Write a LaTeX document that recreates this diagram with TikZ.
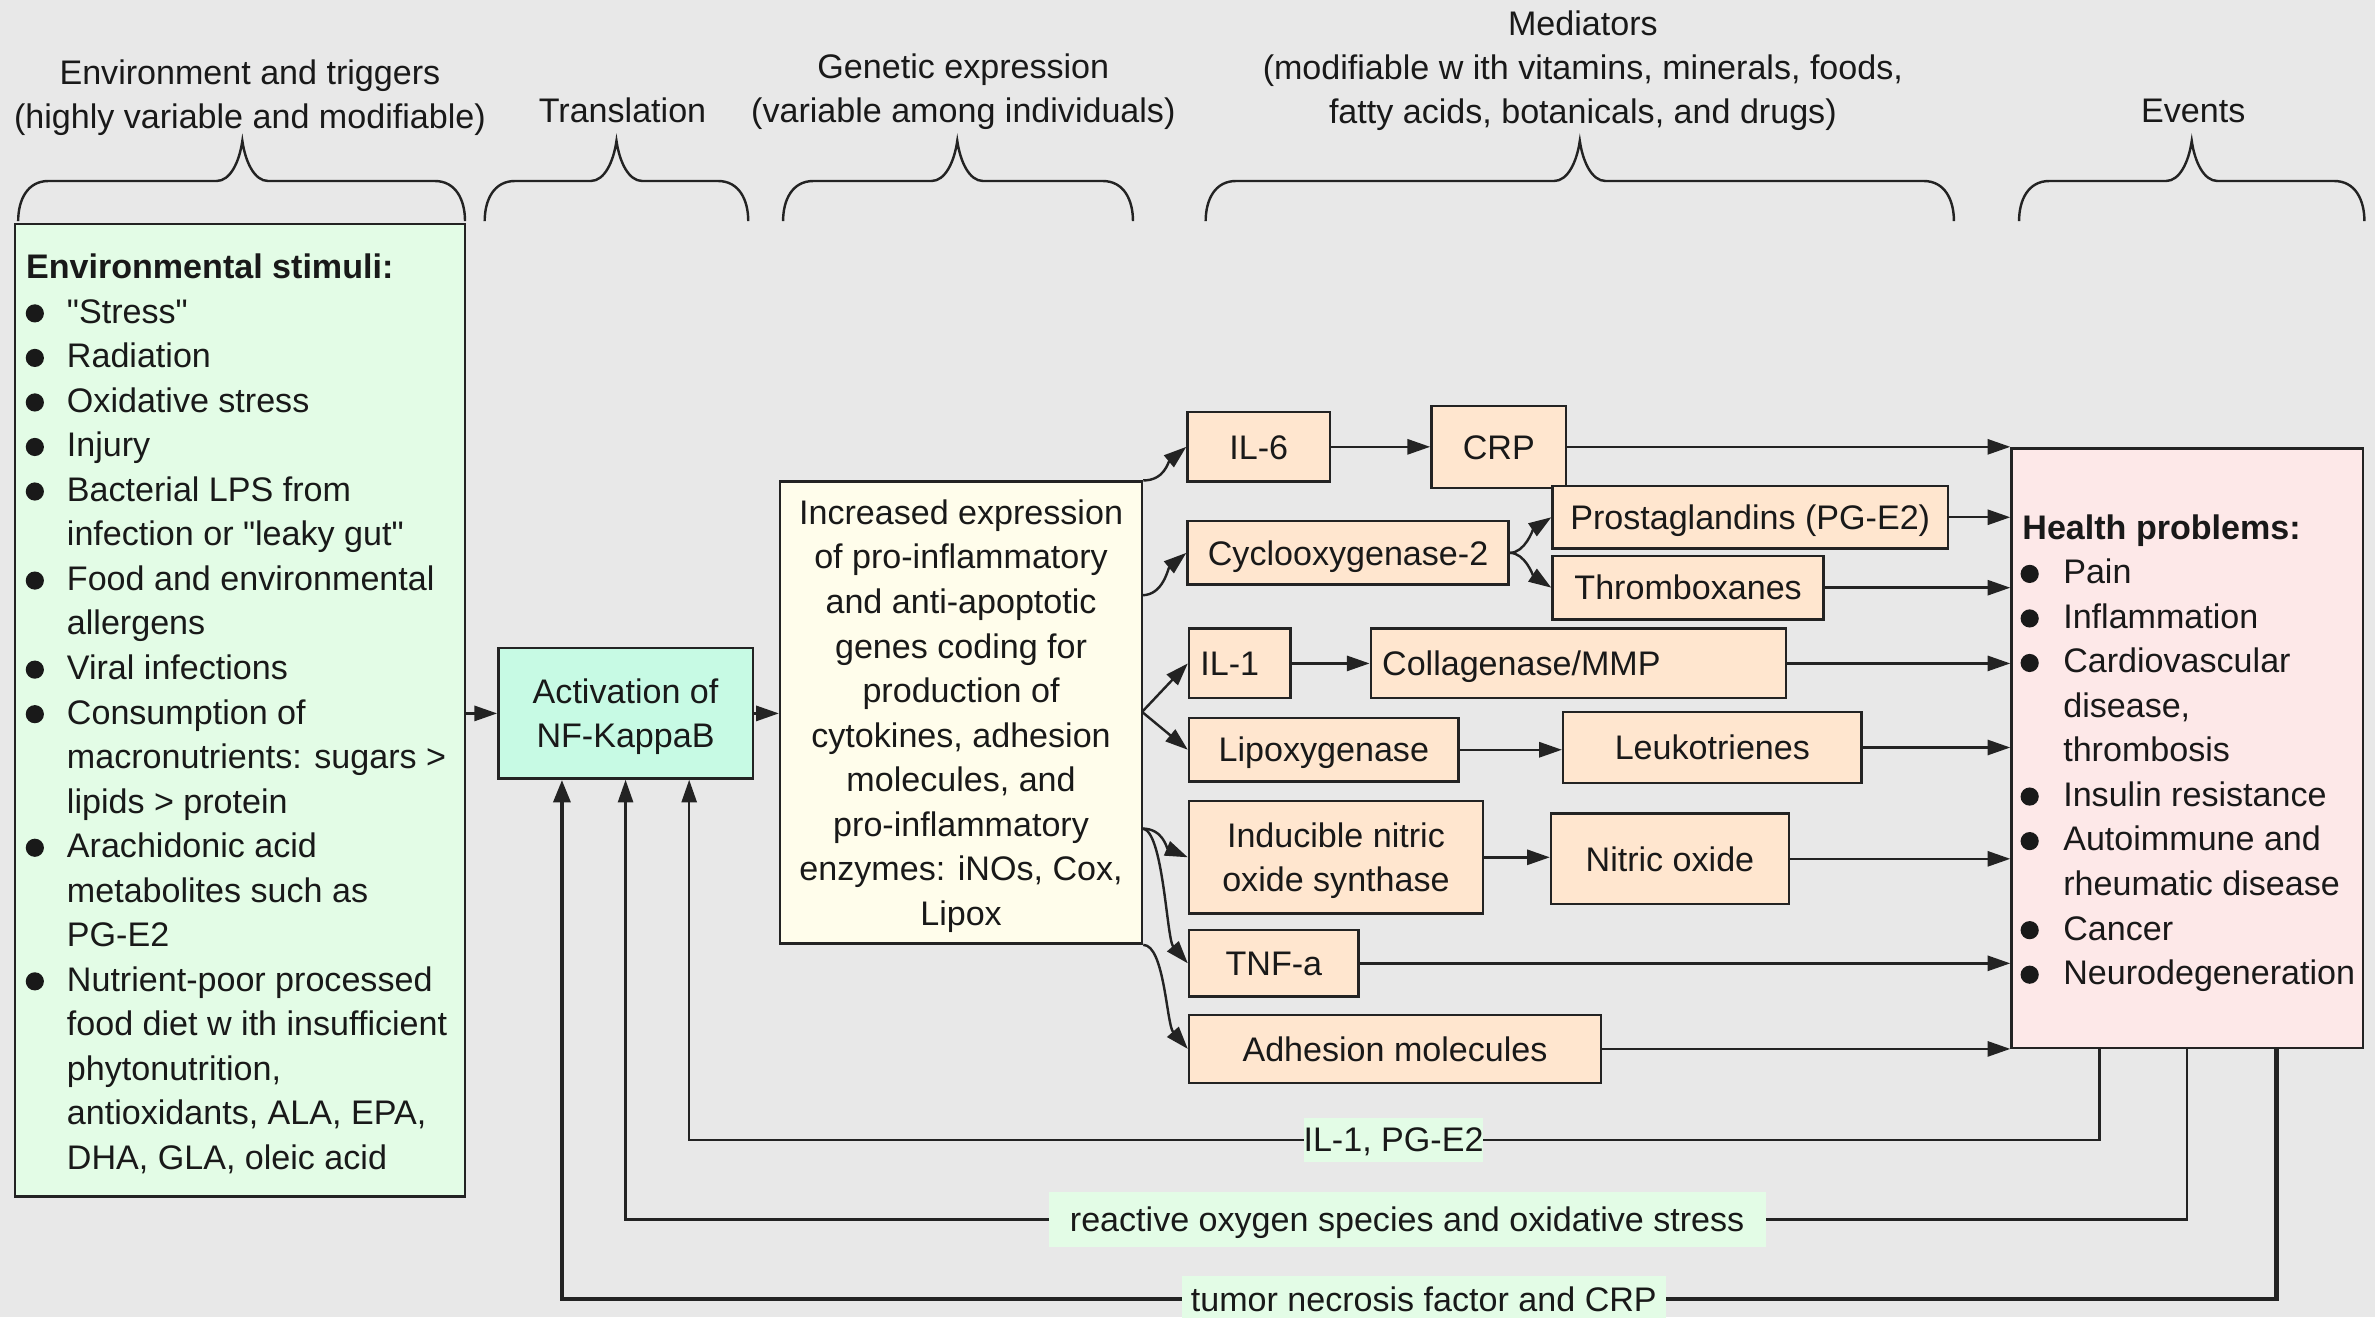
\documentclass[tikz,border=0pt]{standalone}
\usepackage{fontspec}
\setmainfont{Liberation Sans}
\usetikzlibrary{arrows.meta}
\definecolor{bg}{RGB}{232,232,232}
\definecolor{envg}{RGB}{227,252,230}
\definecolor{nfc}{RGB}{199,250,228}
\definecolor{crm}{RGB}{255,253,235}
\definecolor{pch}{RGB}{255,230,207}
\definecolor{pnk}{RGB}{253,232,232}
\definecolor{ln}{RGB}{35,35,35}
\definecolor{tx}{RGB}{25,25,25}
\newcommand\dfont{\fontsize{22.5pt}{29.4pt}\selectfont}
\newcommand\sq{\XeTeXglyph\XeTeXcharglyph"22\relax}
\newcommand\hdrbrace[3]{%
  \draw[brc] (#1,146) .. controls (#1,132) and (#1+6,119.5) .. (#1+20,119.5) -- (#2-17,119.5)
    .. controls (#2-8,119.5) and (#2-2,107) .. (#2,93)
    .. controls (#2+2,107) and (#2+8,119.5) .. (#2+17,119.5) -- (#3-20,119.5)
    .. controls (#3-6,119.5) and (#3,132) .. (#3,146);}
\begin{document}
\begin{tikzpicture}[x=1pt,y=-1pt, font=\dfont, text=tx,
  box/.style={draw=ln, line width=1.6pt, inner sep=0pt},
  one/.style={box, fill=pch, text height=16.1pt, text depth=0pt},
  conn/.style={draw=ln, line width=1.6pt, -{Triangle[length=15pt,width=10pt]}},
  thk/.style={draw=ln, line width=3pt, -{Triangle[length=15pt,width=11pt]}},
  brc/.style={draw=ln, line width=1.6pt},
  hdr/.style={anchor=base, inner sep=0pt},
  fbl/.style={fill=envg, inner ysep=0pt, text height=16.1pt, text depth=0pt}]
\fill[bg] (0,0) rectangle (1568,869.5);
\useasboundingbox (0,0) rectangle (1568,869.5);

% headers
\node[hdr] (h1a) at (165,56) {Environment and triggers};
\node[hdr] (h1b) at (165,85) {(highly variable and modifiable)};
\node[hdr] (h2) at (411,81) {Translation};
\node[hdr] (h3a) at (636,52) {Genetic expression};
\node[hdr] (h3b) at (636,81) {(variable among individuals)};
\node[hdr] (h4a) at (1045,23.5) {Mediators};
\node[hdr] (h4b) at (1045,52.5) {(modifiable w ith vitamins, minerals, foods,};
\node[hdr] (h4c) at (1045,81.5) {fatty acids, botanicals, and drugs)};
\node[hdr] (h5) at (1448,81) {Events};

% braces
\hdrbrace{12}{160}{307}
\hdrbrace{320}{407}{494}
\hdrbrace{517}{632}{748}
\hdrbrace{796}{1043}{1290}
\hdrbrace{1333}{1447}{1561}

% environment box
\node[box, fill=envg, minimum width=297pt, minimum height=642pt] (env) at (158.5,469) {};
\node[anchor=base west, inner sep=0pt] (envtxt) at (44,184) {\parbox[t]{330pt}{\dfont
\hspace*{-27pt}\textbf{Environmental stimuli:}\\
\sq Stress\sq\\
Radiation\\
Oxidative stress\\
Injury\\
Bacterial LPS from\\
infection or \sq leaky gut\sq\\
Food and environmental\\
allergens\\
Viral infections\\
Consumption of\\
macronutrients: sugars >\\
lipids > protein\\
Arachidonic acid\\
metabolites such as\\
PG-E2\\
Nutrient-poor processed\\
food diet w ith insufficient\\
phytonutrition,\\
antioxidants, ALA, EPA,\\
DHA, GLA, oleic acid}};
\foreach \k in {1,2,3,4,5,7,9,10,13,16} \fill[tx] (23,177.5+29.4*\k) circle (6pt);

% NF-KappaB
\node[box, fill=nfc, minimum width=168pt, minimum height=86pt, text height=16.1pt, text depth=29.4pt] (nf) at (413,471)
  {\parbox[t]{160pt}{\centering\dfont Activation of\\NF-KappaB}};

% gene expression
\node[box, fill=crm, minimum width=239pt, minimum height=305pt, text height=16.1pt, text depth=264.6pt] (cream) at (634.5,470.5)
  {\parbox[t]{235pt}{\centering\dfont Increased expression\\of pro-inflammatory\\and anti-apoptotic\\genes coding for\\production of\\cytokines, adhesion\\molecules, and\\pro-inflammatory\\enzymes: iNOs, Cox,\\Lipox}};

% mediators
\node[one, minimum width=94pt, minimum height=46pt] (il6) at (831,295) {IL-6};
\node[one, minimum width=89pt, minimum height=54pt] (crp) at (989.5,295) {CRP};
\node[one, minimum width=212pt, minimum height=42pt] (cox) at (890,365) {Cyclooxygenase-2};
\node[one, minimum width=261pt, minimum height=41pt] (pge) at (1155.5,341.5) {Prostaglandins (PG-E2)};
\node[one, minimum width=179pt, minimum height=42pt] (thx) at (1114.5,388) {Thromboxanes};
\node[one, minimum width=67pt, minimum height=46pt] (il1) at (818.5,438) {\makebox[52pt][l]{IL-1}};
\node[one, minimum width=274pt, minimum height=46pt] (coll) at (1042,438) {\makebox[259pt][l]{Collagenase/MMP}};
\node[one, minimum width=178pt, minimum height=42pt] (lipox) at (874,495) {Lipoxygenase};
\node[one, minimum width=197pt, minimum height=47pt] (leuk) at (1130.5,493.5) {Leukotrienes};
\node[box, fill=pch, minimum width=194pt, minimum height=74pt, text height=16.1pt, text depth=29.4pt] (inos) at (882,566)
  {\parbox[t]{190pt}{\centering\dfont Inducible nitric\\oxide synthase}};
\node[one, minimum width=157pt, minimum height=60pt] (no) at (1102.5,567) {Nitric oxide};
\node[one, minimum width=112pt, minimum height=44pt] (tnf) at (841,636) {TNF-a};
\node[one, minimum width=272pt, minimum height=45pt] (adh) at (921,692.5) {Adhesion molecules};

% health problems
\node[box, fill=pnk, minimum width=232pt, minimum height=396pt] (hp) at (1444,494) {};
\node[anchor=base west, inner sep=0pt] (hptxt) at (1362,356) {\parbox[t]{220pt}{\dfont
\hspace*{-27pt}\textbf{Health problems:}\\
Pain\\
Inflammation\\
Cardiovascular\\
disease,\\
thrombosis\\
Insulin resistance\\
Autoimmune and\\
rheumatic disease\\
Cancer\\
Neurodegeneration}};
\foreach \k in {1,2,3,6,7,9,10} \fill[tx] (1340,349.5+29.4*\k) circle (6pt);

% connectors
\draw[conn] (env.east |- nf.west) -- (nf.west);
\draw[conn] (nf.east) -- (nf.east -| cream.west);
\coordinate (o2) at (754,393);
\coordinate (o3) at (754,470);
\coordinate (o4) at (754,547);
\draw[conn] (cream.north east) .. controls +(14,0) and +(-12,10) .. (il6.west);
\draw[conn] (o2) .. controls +(14,0) and +(-12,10) .. (cox.west);
\draw[conn] (o3) -- (il1.west);
\draw[conn] (o3) -- (lipox.west);
\draw[conn] (o4) .. controls +(14,0) and +(-14,-6) .. (inos.west);
\draw[conn] (o4) .. controls +(14,0) and +(-14,-16) .. (tnf.west);
\draw[conn] (cream.south east) .. controls +(14,0) and +(-14,-16) .. (adh.west);
\draw[conn] (il6.east) -- (il6.east -| crp.west);
\draw[conn] (cox.east) .. controls +(10,0) and +(-12,8) .. (pge.west);
\draw[conn] (cox.east) .. controls +(10,0) and +(-12,-8) .. (thx.west);
\draw[conn] (il1.east) -- (il1.east -| coll.west);
\draw[conn] (lipox.east) -- (lipox.east -| leuk.west);
\draw[conn] (inos.east) -- (inos.east -| no.west);

\draw[conn] (crp.east) -- (crp.east -| hp.west);
\draw[conn] (pge.east) -- (pge.east -| hp.west);
\draw[conn] (thx.east) -- (thx.east -| hp.west);
\draw[conn] (coll.east) -- (coll.east -| hp.west);
\draw[conn] (leuk.east) -- (leuk.east -| hp.west);
\draw[conn] (no.east) -- (no.east -| hp.west);
\draw[conn] (tnf.east) -- (tnf.east -| hp.west);
\draw[conn] (adh.east) -- (adh.east -| hp.west);

% feedback loops
\coordinate (f1a) at (1386,752.5); \coordinate (f1b) at (455,752.5);
\coordinate (f2a) at (1444,805);   \coordinate (f2b) at (413,805);
\coordinate (f3a) at (1503,857.5); \coordinate (f3b) at (371,857.5);
\draw[conn] (hp.south -| f1a) -- (f1a) -- (f1b) -- (nf.south -| f1b);
\draw[conn] (hp.south -| f2a) -- (f2a) -- (f2b) -- (nf.south -| f2b);
\draw[thk] (hp.south -| f3a) -- (f3a) -- (f3b) -- (nf.south -| f3b);
\node[fbl, inner xsep=0pt, minimum height=29pt] (lab1) at (920,752.5) {IL-1, PG-E2};
\node[fbl, inner xsep=14pt, minimum height=36pt] (lab2) at (929,805) {reactive oxygen species and oxidative stress};
\node[fbl, inner xsep=6pt, minimum height=30pt] (lab3) at (940,857.5) {tumor necrosis factor and CRP};
\end{tikzpicture}
\end{document}
